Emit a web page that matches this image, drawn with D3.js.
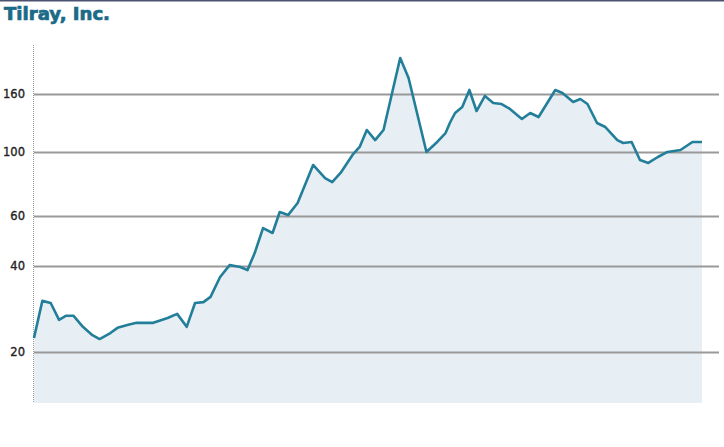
<!DOCTYPE html>
<html><head><meta charset="utf-8">
<script src="https://cdn.jsdelivr.net/npm/d3@7"></script>
<style>body{margin:0;background:#fff;}svg{display:block;}</style>
</head><body>
<svg id="c" width="724" height="447"></svg>
<script>
const title = "Tilray, Inc.";
const tickValues = [20, 40, 60, 100, 160];
const tickLabels = ["20", "40", "60", "100", "160"];
const dayOffsets = [0,7,14,21,27,33,41,49,55,64,70,79,86,100,107,112,120,128,135,142,148,156,164,173,179,185,192,200,206,213,221,234,244,250,257,267,273,279,286,293,307,314,329,338,345,349,353,359,365,371,378,385,392,399,409,416,423,437,443,452,458,464,472,479,489,494,501,508,515,523,531,542,552,560];
const prices = [22.4,30.2,29.7,25.9,26.8,26.8,24.5,22.9,22.2,23.3,24.3,24.9,25.3,25.3,25.9,26.3,27.2,24.5,29.7,29.9,31.2,36.6,40.3,39.7,38.7,44.4,54.3,52.2,61.8,60.3,66.5,90.3,81.3,78.7,84.7,97.9,104.4,119.7,110.4,119.7,213.9,182.0,100.3,108.7,116.8,127.7,137.3,144.1,165.3,139.5,157.5,148.8,147.6,141.8,130.8,137.3,132.9,165.3,161.3,150.0,153.7,147.6,126.7,122.6,110.4,107.8,108.7,94.0,91.8,96.3,100.3,101.9,108.7,108.7];

const data = dayOffsets.map((d,i)=>({d, v: prices[i]}));
const svg = d3.select("#c");

const x = d3.scaleLinear().domain([0, 560]).range([34, 702]);
const y = d3.scaleLog().domain([13.26, 237.5]).range([403, 45]);

// top border
svg.append("rect").attr("x",0).attr("y",0).attr("width",724).attr("height",1.5).attr("fill","#4d5272");

// title
svg.append("text").attr("x",4).attr("y",20)
  .attr("font-family","DejaVu Sans, Verdana, sans-serif").attr("font-weight","bold")
  .attr("font-size",17.5).attr("fill","#1b6a87")
  .attr("stroke","#1b6a87").attr("stroke-width",0.7)
  .attr("textLength",106).attr("lengthAdjust","spacingAndGlyphs")
  .text(title);

// area
svg.append("path").datum(data)
  .attr("fill","#e7eff5")
  .attr("d", d3.area().x(p=>x(p.d)).y0(y.range()[0]).y1(p=>y(p.v)));

// gridlines
svg.append("g").selectAll("line").data(tickValues).join("line")
  .attr("x1",34).attr("x2",719)
  .attr("y1",d=>Math.round(y(d))+0.5).attr("y2",d=>Math.round(y(d))+0.5)
  .attr("stroke","#999").attr("stroke-width",2);

// y axis labels
svg.append("g").selectAll("text").data(tickValues).join("text")
  .attr("x",25).attr("y",d=>y(d)+4)
  .attr("text-anchor","end")
  .attr("font-family","DejaVu Sans, sans-serif").attr("font-size",11.5)
  .attr("fill","#222").attr("stroke","#222").attr("stroke-width",0.35)
  .text((d,i)=>tickLabels[i]);

// dotted axis
svg.append("line").attr("x1",33.5).attr("x2",33.5).attr("y1",45).attr("y2",403)
  .attr("stroke","#999").attr("stroke-width",1).attr("stroke-dasharray","1,1");

// line
svg.append("path").datum(data)
  .attr("fill","none").attr("stroke","#237f99").attr("stroke-width",2.6)
  .attr("stroke-linejoin","round")
  .attr("d", d3.line().x(p=>x(p.d)).y(p=>y(p.v)));
</script>
</body></html>
